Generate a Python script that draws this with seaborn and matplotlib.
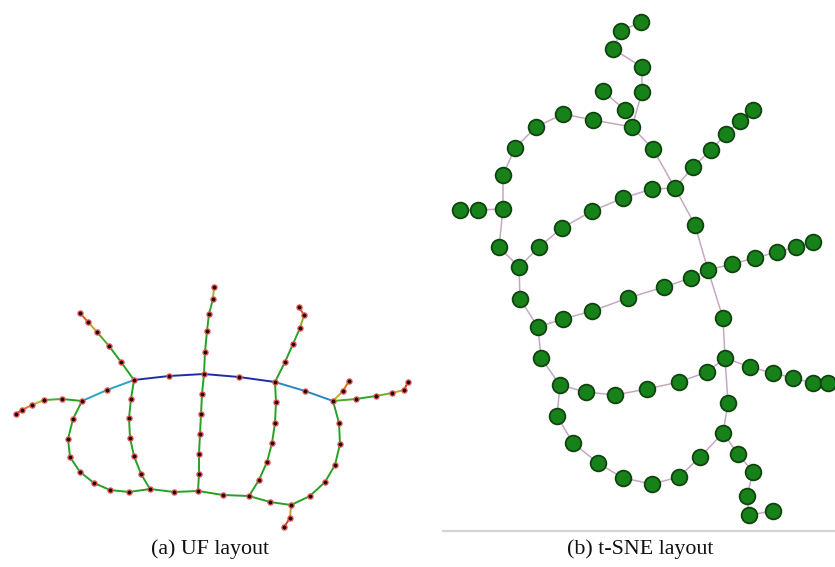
import numpy as np
import pandas as pd
import matplotlib
matplotlib.use("Agg")
import matplotlib.pyplot as plt
from matplotlib.collections import LineCollection
from matplotlib.colors import LinearSegmentedColormap
import seaborn as sns

# ---------------- UF layout: node positions ----------------
uf_x = [16, 22, 32, 44, 62, 82, 107, 134, 169, 204, 239, 275, 305, 333, 356, 376,
        392, 404, 408, 343, 349, 121, 109, 97, 88, 80, 205, 207, 209, 213, 214, 285,
        293, 300, 304, 299, 73, 68, 70, 80, 94, 110, 129, 150, 131, 129, 130, 134,
        141, 174, 198, 202, 201, 200, 199, 199, 223, 249, 276, 275, 272, 267, 259,
        270, 291, 339, 340, 335, 325, 310, 290, 284]
uf_y = [414, 410, 405, 400, 399, 401, 390, 380, 376, 374, 377, 382, 391, 401, 399, 396,
        393, 390, 382, 391, 381, 362, 346, 332, 322, 313, 352, 331, 314, 299, 287, 362,
        344, 328, 315, 307, 419, 439, 457, 472, 483, 490, 492, 489, 399, 418, 438, 456,
        474, 492, 491, 394, 414, 434, 454, 474, 495, 496, 402, 423, 443, 462, 480,
        502, 505, 423, 444, 465, 482, 496, 518, 527]

# paths through the UF graph (node ids) and the per-edge strain value
uf_paths = [
    [5, 6, 7], [7, 8, 9, 10, 11], [11, 12, 13],
    [5, 4, 3, 2, 1, 0], [7, 21, 22, 23, 24, 25], [9, 26, 27, 28, 29, 30],
    [11, 31, 32, 33, 34, 35], [13, 14, 15, 16, 17, 18], [13, 19, 20],
    [5, 36, 37, 38, 39, 40, 41, 42, 43], [7, 44, 45, 46, 47, 48, 43], [43, 49, 50],
    [9, 51, 52, 53, 54, 55, 50], [50, 56, 57], [11, 58, 59, 60, 61, 62, 57],
    [57, 63, 64], [13, 65, 66, 67, 68, 69, 64], [64, 70, 71],
]
uf_strain = [
    [0.80, 0.80], [1.0, 1.0, 1.0, 1.0], [0.88, 0.88],
    [0.55, 0.45, 0.35, 0.22, 0.05], [0.55, 0.55, 0.45, 0.33, 0.15],
    [0.55, 0.55, 0.55, 0.48, 0.38], [0.55, 0.55, 0.50, 0.40, 0.12],
    [0.45, 0.48, 0.42, 0.32, 0.08], [0.33, 0.18],
    [0.55] * 8, [0.55] * 6, [0.55, 0.55],
    [0.55] * 6, [0.58, 0.58], [0.55] * 6,
    [0.55, 0.55], [0.55] * 6, [0.30, 0.10],
]

# ---------------- t-SNE layout: node positions ----------------
ts_x = [641, 621, 613, 642, 642, 632, 625, 603, 593, 563, 536, 515, 503, 503, 478, 460,
        499, 519, 539, 562, 592, 623, 652, 675, 653, 693, 711, 726, 740, 753, 695, 708,
        732, 755, 777, 796, 813, 691, 664, 628, 592, 563, 538, 520, 541, 560, 586, 615,
        647, 679, 707, 725, 723, 750, 773, 793, 813, 828, 728, 723, 700, 679, 652, 623,
        598, 573, 557, 738, 753, 747, 749, 773]
ts_y = [22, 31, 49, 67, 92, 127, 110, 91, 120, 114, 127, 148, 175, 209, 210, 210,
        247, 267, 247, 228, 211, 198, 189, 188, 149, 167, 150, 134, 121, 110, 225, 270,
        264, 258, 252, 247, 242, 278, 287, 298, 311, 319, 327, 299, 358, 385, 392, 395,
        389, 382, 372, 358, 318, 367, 373, 378, 383, 383, 403, 433, 457, 477, 484, 478,
        463, 443, 416, 454, 472, 496, 515, 511]

ts_paths = [
    [0, 1, 2, 3, 4, 5], [7, 6, 5], [5, 8, 9, 10, 11, 12, 13], [13, 14, 15],
    [13, 16, 17], [5, 24, 23], [23, 22, 21, 20, 19, 18, 17],
    [23, 25, 26, 27, 28, 29], [23, 30, 31], [31, 32, 33, 34, 35, 36],
    [31, 37, 38, 39, 40, 41, 42], [17, 43, 42], [42, 44, 45],
    [45, 46, 47, 48, 49, 50, 51], [31, 52, 51], [51, 53, 54, 55, 56, 57],
    [51, 58, 59], [45, 66, 65, 64, 63, 62, 61, 60, 59], [59, 67, 68, 69, 70, 71],
]

captions = ["(a) UF layout", "(b) t-SNE layout"]


def segments(xs, ys, paths):
    segs = []
    for p in paths:
        for a, b in zip(p[:-1], p[1:]):
            segs.append([(xs[a], ys[a]), (xs[b], ys[b])])
    return segs


sns.set_theme(style="white")
W, H = 835, 567
fig = plt.figure(figsize=(W / 100, H / 100), dpi=100)
fig.patch.set_facecolor("white")


def pixel_axes(x0, y0, x1, y1):
    ax = fig.add_axes([x0 / W, 1 - y1 / H, (x1 - x0) / W, (y1 - y0) / H])
    ax.set_xlim(x0, x1)
    ax.set_ylim(y1, y0)
    ax.set_axis_off()
    return ax


# strain colour scale: red tips -> yellow -> green body -> cyan -> blue spine
strain_cmap = LinearSegmentedColormap.from_list(
    "strain",
    [(0.0, "#d21414"), (0.2, "#dc7a14"), (0.36, "#b8b820"), (0.48, "#2aa52a"),
     (0.6, "#22a022"), (0.8, "#22a6bf"), (0.9, "#2a80c0"), (1.0, "#1b2ea6")],
)

# --- left panel ---
axL = pixel_axes(0, 270, 420, 540)
uf_segs = segments(uf_x, uf_y, uf_paths)
uf_vals = [v for vals in uf_strain for v in vals]
lc = LineCollection(uf_segs, colors=strain_cmap(np.array(uf_vals)), linewidths=1.4,
                    zorder=1)
axL.add_collection(lc)
uf_df = pd.DataFrame({"x": uf_x, "y": uf_y})
sns.scatterplot(data=uf_df, x="x", y="y", ax=axL, s=14, color="#2a0505",
                edgecolor="#e85a5a", linewidth=0.9, zorder=3, legend=False)
axL.set_xlim(0, 420)
axL.set_ylim(540, 270)
axL.set_axis_off()

# --- right panel ---
axR = pixel_axes(440, 0, 835, 540)
ts_segs = segments(ts_x, ts_y, ts_paths)
lc2 = LineCollection(ts_segs, colors="#c4a9c0", linewidths=1.1, zorder=1)
axR.add_collection(lc2)
ts_df = pd.DataFrame({"x": ts_x, "y": ts_y})
sns.scatterplot(data=ts_df, x="x", y="y", ax=axR, s=128, color="#18821a",
                edgecolor="#10440f", linewidth=1.3, zorder=3, legend=False)
axR.plot([443, 835], [531, 531], color="#d4d4d4", lw=1.6, zorder=0)
axR.set_xlim(440, 835)
axR.set_ylim(540, 0)
axR.set_axis_off()

# captions
for cx, text in zip([210, 640], captions):
    fig.text(cx / W, 1 - 549 / H, text, ha="center", va="center",
             fontsize=15.8, family=["Liberation Serif"], color="#111111")

fig.savefig("out.png", dpi=100, facecolor="white")
